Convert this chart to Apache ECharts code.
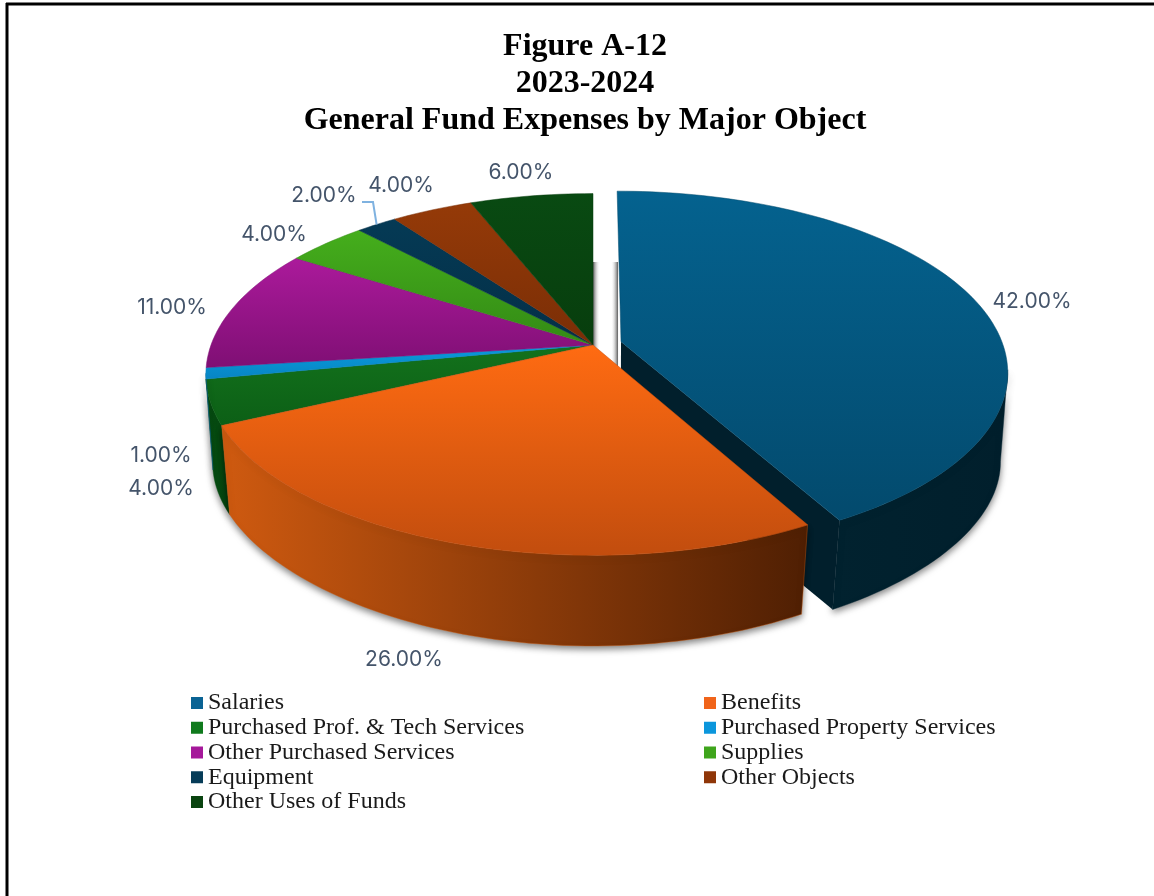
<!DOCTYPE html>
<html>
<head>
<meta charset="utf-8">
<style>html,body{margin:0;padding:0;background:#fff}#chart{width:1154px;height:896px}</style>
<script src="https://cdn.jsdelivr.net/npm/echarts@6/dist/echarts.min.js"></script>
</head>
<body>
<div id="chart"></div>
<script>
// General fund expense shares, in percent
const categories = ['Salaries', 'Benefits', 'Purchased Prof. & Tech Services', 'Purchased Property Services',
  'Other Purchased Services', 'Supplies', 'Equipment', 'Other Objects', 'Other Uses of Funds'];
const shares = [42, 26, 4, 1, 11, 4, 2, 4, 6];
const titleLines = ['Figure A-12', '2023-2024', 'General Fund Expenses by Major Object'];

// Face colours per category: legend swatch, top-face gradient, side-face gradient
const swatch = ['#0a6394', '#f0641a', '#0f7a1d', '#0b96dc', '#a5189a', '#3fa51c', '#063c58', '#8f3608', '#0a4410'];
const topFace = [['#04628f', '#034a6d'], ['#ff6b12', '#c24d0e'], ['#13721c', '#0c5f16'], ['#0a9bdc', '#0785c4'],
  ['#ab1a9b', '#7f0f74'], ['#45ae1c', '#338a15'], ['#053a55', '#042f47'], ['#953a08', '#7a2e06'], ['#094a12', '#073d0d']];
const sideFace = [['#01222f', '#011f2c'], ['#cf5a10', '#4f1f03'], ['#075012', '#054510'], ['#065a80', '#065a80'],
  ['#5a0a52', '#5a0a52'], ['#25610f', '#25610f'], ['#021f2e', '#021f2e'], ['#5a2204', '#5a2204'], ['#052a09', '#052a09']];

// Label anchors beside the disc, in category order
const labelAnchors = [[1032, 302], [404, 660], [161, 489], [161, 456], [172, 308], [274, 235], [324, 196], [401, 186], [521, 173]];

// Perspective disc: apex, scale and foreshortening of the top and bottom planes
const apex = { x: 593, y: 345 };
const topPlane = { bx: 382, by: 176, kx: 0.1625, ky: 0.1625, dy: 0 };
const basePlane = { bx: 376, by: 162, kx: 0.15, ky: 0.22, dy: 93.3 };
const explode = 0.076;   // pull-out of the first slice, in disc radii
const RIM_FROM = 99;     // rim is visible between these clockwise angles
const RIM_TO = 261;

const total = shares.reduce((a, b) => a + b, 0);
const startAngle = i => shares.slice(0, i).reduce((a, b) => a + b, 0) / total * 360;

function project(deg, plane, radius, pull) {
  const t = deg * Math.PI / 180;
  let u = Math.sin(t) * radius;
  let v = -Math.cos(t) * radius;
  if (pull) {
    const m = pull.mid * Math.PI / 180;
    u += pull.e * Math.sin(m);
    v -= pull.e * Math.cos(m);
  }
  return [apex.x + plane.bx * u / (1 - plane.kx * v), apex.y + plane.dy + plane.by * v / (1 - plane.ky * v)];
}

function arc(from, to, plane, pull) {
  const pts = [];
  const n = Math.max(2, Math.ceil((to - from) / 1.5));
  for (let i = 0; i <= n; i++) pts.push(project(from + (to - from) * i / n, plane, 1, pull));
  return pts;
}

const vertical = c => new echarts.graphic.LinearGradient(0, 0, 0, 1, [{ offset: 0, color: c[0] }, { offset: 1, color: c[1] }]);
const horizontal = c => new echarts.graphic.LinearGradient(0, 0, 1, 0, [{ offset: 0, color: c[0] }, { offset: 1, color: c[1] }]);
const castShadow = { shadowColor: 'rgba(0,0,0,0.5)', shadowBlur: 7, shadowOffsetY: 3 };

function renderSlice(i, params, api) {
  const from = startAngle(i);
  const to = from + api.value(0) / total * 360;
  const pull = i === 0 ? { e: explode, mid: (from + to) / 2 } : null;
  const children = [];

  if (i === 0) {
    // soft shading on the two walls of the gap left by the pulled-out slice
    const a = project(0, topPlane, 0, pull);
    const gap = (x, w, dark) => ({
      type: 'rect', shape: { x, y: 262, width: w, height: a[1] - 262 + 26 },
      style: { fill: new echarts.graphic.LinearGradient(0, 0, 1, 0, dark ?
        [{ offset: 0, color: 'rgba(60,60,60,0.85)' }, { offset: 1, color: 'rgba(255,255,255,0)' }] :
        [{ offset: 0, color: 'rgba(255,255,255,0)' }, { offset: 1, color: 'rgba(60,60,60,0.85)' }]) }
    });
    children.push(gap(apex.x, 7, true), gap(a[0] - 10, 7, false));
  }

  const lo = Math.max(from, RIM_FROM);
  const hi = Math.min(to, RIM_TO);
  if (hi > lo) {
    const outer = arc(lo, hi, topPlane, pull).concat(arc(lo, hi, basePlane, pull).reverse());
    children.push({ type: 'polygon', shape: { points: outer },
      style: Object.assign({ fill: horizontal(sideFace[i]), stroke: sideFace[i][0], lineWidth: 0.4 }, castShadow) });
  }
  if (i === 0) {
    // cut face on the near side of the pulled-out slice
    children.push({ type: 'polygon', shape: { points: [
      project(0, topPlane, 0, pull), project(to, topPlane, 1, pull),
      project(to, basePlane, 1, pull), project(0, basePlane, 0, pull)] },
      style: { fill: sideFace[0][1] } });
  }

  // top face
  const face = [project(0, topPlane, 0, pull)].concat(arc(from, to, topPlane, pull));
  children.push({ type: 'polygon', shape: { points: face },
    style: { fill: vertical(topFace[i]), stroke: topFace[i][1], lineWidth: 0.5 } });

  // leader from the small Equipment label to its slice
  if (i === 6) {
    const end = project((from + to) / 2, topPlane, 1, null);
    children.push({ type: 'polyline', shape: { points: [[362, 202], [373, 202], end] },
      style: { stroke: '#7fb2e0', lineWidth: 2, fill: null } });
  }

  children.push({ type: 'text', style: {
    text: api.value(0).toFixed(2) + '%', x: labelAnchors[i][0], y: labelAnchors[i][1],
    fill: '#44546a', font: '21px Inter', align: 'center', verticalAlign: 'middle' } });

  return { type: 'group', children };
}

const paintOrder = i => (i === 0 ? 2 : i === 1 ? 4 : 3);
const legendBase = {
  orient: 'vertical', top: 686, itemWidth: 12, itemHeight: 12, itemGap: 0.75, icon: 'rect', selectedMode: false,
  textStyle: { fontFamily: 'Liberation Serif', fontSize: 24, color: '#1a1a1a', lineHeight: 20, padding: [0, 0, 0, 0] }
};

const chart = echarts.init(document.getElementById('chart'), null, { renderer: 'canvas' });
chart.setOption({
  animation: false,
  backgroundColor: '#ffffff',
  title: {
    text: titleLines.join('\n'), left: 580, top: 23, textAlign: 'center',
    textStyle: { fontFamily: 'Liberation Serif', fontWeight: 'bold', fontSize: 32, lineHeight: 37, color: '#000000' }
  },
  legend: [
    Object.assign({}, legendBase, { left: 186, data: categories.filter((_, i) => i % 2 === 0) }),
    Object.assign({}, legendBase, { left: 699, data: categories.filter((_, i) => i % 2 === 1) })
  ],
  graphic: [
    { type: 'line', shape: { x1: 7, y1: 3, x2: 7, y2: 896 }, style: { stroke: '#000', lineWidth: 3 } },
    { type: 'line', shape: { x1: 6, y1: 4, x2: 1154, y2: 4 }, style: { stroke: '#000', lineWidth: 3 } }
  ],
  series: categories.map((name, i) => ({
    type: 'custom', name, coordinateSystem: 'none', z: paintOrder(i), silent: true,
    itemStyle: { color: swatch[i] },
    data: [[shares[i]]],
    renderItem: (params, api) => renderSlice(i, params, api)
  }))
});
</script>
</body>
</html>
